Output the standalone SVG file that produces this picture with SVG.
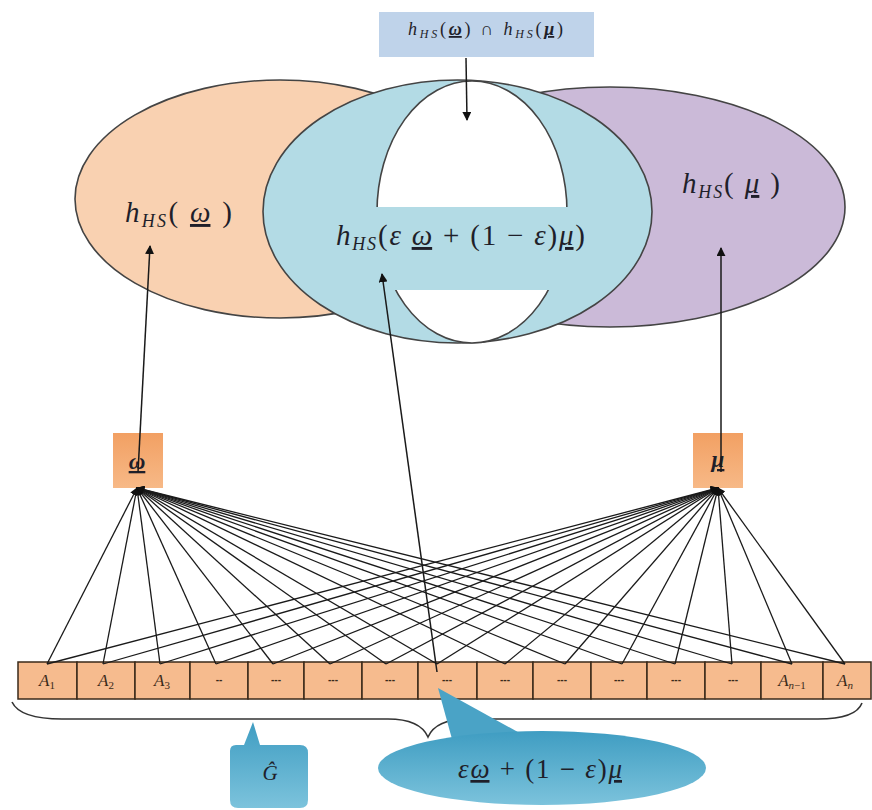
<svg xmlns="http://www.w3.org/2000/svg" width="872" height="810" viewBox="0 0 872 810">
<defs>
<style>
.math{font-family:"Liberation Serif","DejaVu Serif",serif;font-style:italic;fill:#1f1f2a}
.up{font-style:normal}
.ul{text-decoration:underline}
.cell{fill:#f6bb8e;stroke:#3a2a1a;stroke-width:1.5}
.cellt{font-family:"Liberation Serif","DejaVu Serif",serif;font-style:italic;font-size:17px;fill:#3a2a1a;text-anchor:middle}
.sub{font-style:normal;font-size:11px}
.subi{font-style:italic;font-size:11px}
.dash{font-family:"Liberation Sans",sans-serif;font-size:10px;fill:#3a2a1a;text-anchor:middle;font-weight:bold}
.fan{stroke:#1a1a1a;stroke-width:1.3;fill:none;marker-end:url(#ah)}
.arr{stroke:#1a1a1a;stroke-width:1.5;fill:none;marker-end:url(#ahb)}
.ell{stroke:#444;stroke-width:1.6}
</style>
<marker id="ah" viewBox="0 0 10 10" refX="9" refY="5" markerWidth="6" markerHeight="6" orient="auto" markerUnits="strokeWidth"><path d="M0,0 L10,5 L0,10 z" fill="#111"/></marker>
<marker id="ahb" viewBox="0 0 10 10" refX="9" refY="5" markerWidth="6" markerHeight="6" orient="auto" markerUnits="strokeWidth"><path d="M0,0 L10,5 L0,10 z" fill="#111"/></marker>
<linearGradient id="og" x1="0" y1="0" x2="0" y2="1"><stop offset="0" stop-color="#f2a063"/><stop offset="1" stop-color="#f7b987"/></linearGradient>
<linearGradient id="bg" x1="0" y1="0" x2="0" y2="1"><stop offset="0" stop-color="#3f9dc2"/><stop offset="1" stop-color="#7cc3dc"/></linearGradient>
</defs>
<rect width="872" height="810" fill="#ffffff"/>

<g id="set-omega">
<ellipse class="ell" cx="280" cy="199" rx="205" ry="119" fill="#f9d1b1"/>
</g>
<g id="set-mu">
<ellipse class="ell" cx="610" cy="207" rx="235" ry="120" fill="#cbbad8"/>
</g>
<g id="set-mix">
<ellipse class="ell" cx="457.5" cy="211.5" rx="194.5" ry="131.5" fill="#b3dbe5"/>
<ellipse class="ell" cx="472" cy="212" rx="95" ry="131" fill="#ffffff"/>
<rect x="376" y="207" width="193" height="83" fill="#b3dbe5"/>
</g>

<g id="label-omega-set">
<text class="math" x="125" y="222" font-size="29" textLength="107" lengthAdjust="spacing">h<tspan font-size="18" dy="5">HS</tspan><tspan class="up" dy="-5">( </tspan><tspan class="ul">ω</tspan><tspan class="up"> )</tspan></text>
</g>
<g id="label-mu-set">
<text class="math" x="682" y="193" font-size="29" textLength="98" lengthAdjust="spacing">h<tspan font-size="18" dy="5">HS</tspan><tspan class="up" dy="-5">( </tspan><tspan class="ul">μ</tspan><tspan class="up"> )</tspan></text>
</g>
<g id="label-mix-set">
<text class="math" x="336" y="245" font-size="29" textLength="249" lengthAdjust="spacing">h<tspan font-size="18" dy="5">HS</tspan><tspan class="up" dy="-5">(</tspan>ε <tspan class="ul">ω</tspan><tspan class="up"> + (1 − </tspan>ε<tspan class="up">)</tspan><tspan class="ul">μ</tspan><tspan class="up">)</tspan></text>
</g>

<g id="intersection-label">
<rect x="379" y="12" width="215" height="45" fill="#bfd3ea"/>
<text class="math" x="408" y="35" font-size="18" textLength="155" lengthAdjust="spacing">h<tspan font-size="12" dy="3">HS</tspan><tspan class="up" dy="-3">(</tspan><tspan class="ul" font-weight="bold">ω</tspan><tspan class="up">) ∩ </tspan>h<tspan font-size="12" dy="3">HS</tspan><tspan class="up" dy="-3">(</tspan><tspan class="ul" font-weight="bold">μ</tspan><tspan class="up">)</tspan></text>
</g>

<g id="node-omega">
<rect x="113" y="433" width="50" height="55" fill="url(#og)"/>
<text class="math" x="137" y="469" font-size="23" font-weight="bold" text-anchor="middle" text-decoration="underline">ω</text>
</g>
<g id="node-mu">
<rect x="693" y="433" width="50" height="55" fill="url(#og)"/>
<text class="math" x="718" y="467" font-size="23" font-weight="bold" text-anchor="middle" text-decoration="underline">μ</text>
</g>

<g id="row">
<rect class="cell" x="18" y="662" width="59" height="37"/>
<rect class="cell" x="77" y="662" width="58" height="37"/>
<rect class="cell" x="135" y="662" width="55" height="37"/>
<rect class="cell" x="190" y="662" width="58" height="37"/>
<rect class="cell" x="248" y="662" width="56" height="37"/>
<rect class="cell" x="304" y="662" width="58" height="37"/>
<rect class="cell" x="362" y="662" width="56" height="37"/>
<rect class="cell" x="418" y="662" width="59" height="37"/>
<rect class="cell" x="477" y="662" width="56" height="37"/>
<rect class="cell" x="533" y="662" width="58" height="37"/>
<rect class="cell" x="591" y="662" width="56" height="37"/>
<rect class="cell" x="647" y="662" width="58" height="37"/>
<rect class="cell" x="705" y="662" width="56" height="37"/>
<rect class="cell" x="761" y="662" width="62" height="37"/>
<rect class="cell" x="823" y="662" width="48" height="37"/>
<text class="cellt" x="47" y="686">A<tspan class="sub" dy="3">1</tspan></text>
<text class="cellt" x="106" y="686">A<tspan class="sub" dy="3">2</tspan></text>
<text class="cellt" x="162" y="686">A<tspan class="sub" dy="3">3</tspan></text>
<text class="dash" x="219" y="683">--</text>
<text class="dash" x="276" y="683">---</text>
<text class="dash" x="333" y="683">---</text>
<text class="dash" x="390" y="683">---</text>
<text class="dash" x="447" y="683">---</text>
<text class="dash" x="505" y="683">---</text>
<text class="dash" x="562" y="683">---</text>
<text class="dash" x="619" y="683">---</text>
<text class="dash" x="676" y="683">---</text>
<text class="dash" x="733" y="683">---</text>
<text class="cellt" x="792" y="686">A<tspan class="subi" dy="3">n</tspan><tspan class="sub">−1</tspan></text>
<text class="cellt" x="845" y="686">A<tspan class="subi" dy="3">n</tspan></text>
</g>

<g id="connectors">
<path class="fan" d="M47,664 L137,488"/>
<path class="fan" d="M103,664 L137,488"/>
<path class="fan" d="M160,664 L137,488"/>
<path class="fan" d="M216,664 L137,488"/>
<path class="fan" d="M273,664 L137,488"/>
<path class="fan" d="M330,664 L137,488"/>
<path class="fan" d="M386,664 L137,488"/>
<path class="fan" d="M437,664 L137,488"/>
<path class="fan" d="M505,664 L137,488"/>
<path class="fan" d="M565,664 L137,488"/>
<path class="fan" d="M622,664 L137,488"/>
<path class="fan" d="M675,664 L137,488"/>
<path class="fan" d="M732,664 L137,488"/>
<path class="fan" d="M792,664 L137,488"/>
<path class="fan" d="M845,664 L137,488"/>
<path class="fan" d="M47,664 L718,488"/>
<path class="fan" d="M103,664 L718,488"/>
<path class="fan" d="M160,664 L718,488"/>
<path class="fan" d="M216,664 L718,488"/>
<path class="fan" d="M273,664 L718,488"/>
<path class="fan" d="M330,664 L718,488"/>
<path class="fan" d="M386,664 L718,488"/>
<path class="fan" d="M437,664 L718,488"/>
<path class="fan" d="M505,664 L718,488"/>
<path class="fan" d="M565,664 L718,488"/>
<path class="fan" d="M622,664 L718,488"/>
<path class="fan" d="M675,664 L718,488"/>
<path class="fan" d="M732,664 L718,488"/>
<path class="fan" d="M792,664 L718,488"/>
<path class="fan" d="M845,664 L718,488"/>
<path class="arr" d="M138,472 L150,246"/>
<path class="arr" d="M721,472 L721,248"/>
<path class="arr" d="M437,672 L382,274"/>
<path class="arr" d="M466,58 L467,120"/>
<path d="M12,702 Q20,719 62,719 L388,719 Q420,719 428,737 Q436,719 468,719 L818,719 Q856,719 862,703" fill="none" stroke="#333" stroke-width="1.6"/>
</g>

<g id="callout-G">
<path d="M236,745 L244,745 L253,722 L260,745 L300,745 Q308,745 308,753 L308,800 Q308,808 300,808 L238,808 Q230,808 230,800 L230,751 Q230,745 236,745 Z" fill="url(#bg)"/>
<text class="math" x="270" y="780" font-size="21" text-anchor="middle" fill="#1c2b4a">Ĝ</text>
</g>
<g id="callout-mix">
<path d="M438,688 L525,736 L455,750 Z" fill="#4aa3c6"/>
<ellipse cx="542" cy="768" rx="164" ry="37" fill="url(#bg)"/>
<text class="math" x="458" y="778" font-size="27" textLength="164" lengthAdjust="spacing" fill="#1c2b4a">ε<tspan class="ul">ω</tspan><tspan class="up"> + (1 − </tspan>ε<tspan class="up">)</tspan><tspan class="ul">μ</tspan></text>
</g>
</svg>
